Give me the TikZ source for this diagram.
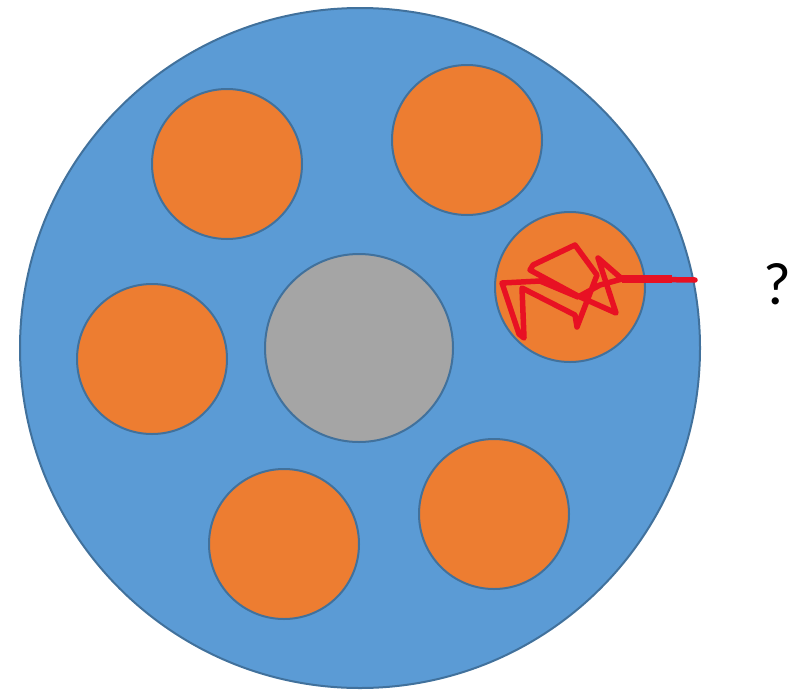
\documentclass[tikz,border=0pt]{standalone}
\usepackage{fontspec}
\setmainfont{Carlito}
\usetikzlibrary{positioning}
\definecolor{discblue}{HTML}{5B9BD5}
\definecolor{discrule}{HTML}{41719C}
\definecolor{rodorange}{HTML}{ED7D31}
\definecolor{coregray}{HTML}{A5A5A5}
\definecolor{scribred}{HTML}{E81123}
\begin{document}
\begin{tikzpicture}[x=1pt, y=-1pt,
  d/.style={circle, draw=discrule, line width=2pt, inner sep=0pt},
  disc/.style={d, fill=discblue, minimum size=680pt},
  core/.style={d, fill=coregray, minimum size=188pt},
  rod/.style={d, fill=rodorange, minimum size=150pt},
  scrib/.style={scribred, line width=5.5pt, line join=round, line cap=round}]
  \useasboundingbox (0,0) rectangle (797,691);
  \node[disc] (disc) at (360,348) {};
  \node[core] (core) at (359,348) {};
  \node[rod] (r1) at (227,164) {};
  \node[rod] (r2) at (467,140) {};
  \node[rod] (r3) at (570,287) {};
  \node[rod] (r4) at (152,359) {};
  \node[rod] (r5) at (284,544) {};
  \node[rod] (r6) at (494,514) {};
  % scribble over the right rod
  \draw[scrib] (695,280) -- (622,279) -- (598,258) -- (616,313) -- (578,296)
    -- (530,270) -- (533,265) -- (575,245) -- (597,275) -- (577,327)
    -- (575,315) -- (522,288) -- (524,338) -- (519,334) -- (502,283)
    -- (540,281) -- (578,297) -- (600,285) -- (622,279);
  \draw[scribred, line width=8pt] (622,279) -- (672,279);
  \node[font=\fontsize{60}{70}\selectfont] (q) at (777,284) {?};
\end{tikzpicture}
\end{document}
